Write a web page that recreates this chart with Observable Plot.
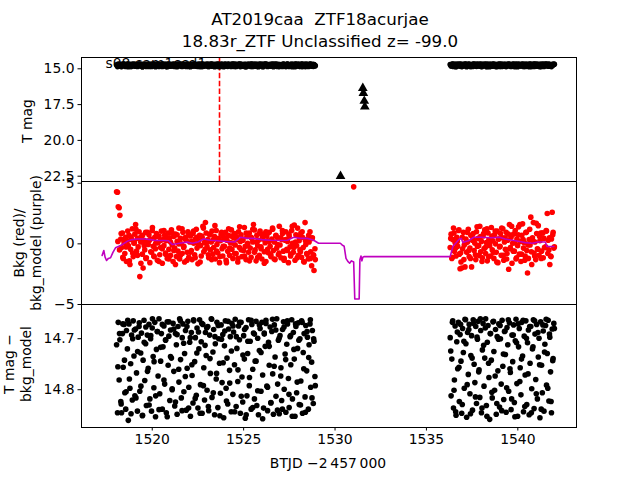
<!DOCTYPE html>
<html>
<head>
<meta charset="utf-8">
<script src="https://cdn.jsdelivr.net/npm/d3@7"></script>
<script src="https://cdn.jsdelivr.net/npm/@observablehq/plot@0.6"></script>
<style>
  html, body { margin: 0; padding: 0; background: white; }
  #chart { position: relative; width: 640px; height: 480px; overflow: hidden; font-family: "DejaVu Sans", sans-serif; color: black; }
  .abs { position: absolute; }
  .title { left: 0; width: 640px; top: 9px; text-align: center; font-size: 16.7px; line-height: 21.5px; white-space: pre; }
  .ylab { font-size: 13.9px; line-height: 17px; text-align: center; white-space: pre; transform: translate(-50%, -50%) rotate(-90deg); }
  .xlab { font-size: 13.9px; transform: translate(-50%, -50%); white-space: pre; }
</style>
</head>
<body>
<div id="chart"></div>
<script>
// ---------- text ----------
const titleLines = ["AT2019caa  ZTF18acurjae", "18.83r_ZTF Unclassified z= -99.0"];
const sectorLabel = ["s08 cam1ccd1"];
const yLabels = ["T mag", "Bkg (red)/\nbkg_model (purple)", "T mag \u2212\nbkg_model"];
const xLabel = "BTJD \u22122\u2009457\u2009000";

// ---------- ticks ----------
const xTicks = [1520, 1525, 1530, 1535, 1540];
const magTicks = [15.0, 17.5, 20.0, 22.5];
const bkgTicks = [-5, 0, 5];
const diffTicks = [14.7, 14.8];

// ---------- TESS cadences (sector 8), orbit 1 ----------
const timesA = [
1518.05,1518.10,1518.14,1518.19,1518.23,1518.28,1518.32,1518.37,1518.41,1518.46,
1518.50,1518.55,1518.59,1518.64,1518.69,1518.73,1518.78,1518.82,1518.87,1518.91,
1518.96,1519.00,1519.05,1519.09,1519.14,1519.19,1519.23,1519.28,1519.32,1519.37,
1519.41,1519.46,1519.50,1519.55,1519.59,1519.64,1519.68,1519.73,1519.78,1519.82,
1519.87,1519.91,1519.96,1520.00,1520.05,1520.09,1520.14,1520.18,1520.23,1520.28,
1520.32,1520.37,1520.41,1520.46,1520.50,1520.55,1520.59,1520.64,1520.68,1520.73,
1520.77,1520.82,1520.87,1520.91,1520.96,1521.00,1521.05,1521.09,1521.14,1521.18,
1521.23,1521.27,1521.32,1521.36,1521.41,1521.46,1521.50,1521.55,1521.59,1521.64,
1521.68,1521.73,1521.77,1521.82,1521.86,1521.91,1521.95,1522.00,1522.05,1522.09,
1522.14,1522.18,1522.23,1522.27,1522.32,1522.36,1522.41,1522.45,1522.50,1522.55,
1522.59,1522.64,1522.68,1522.73,1522.77,1522.82,1522.86,1522.91,1522.95,1523.00,
1523.04,1523.09,1523.14,1523.18,1523.23,1523.27,1523.32,1523.36,1523.41,1523.45,
1523.50,1523.54,1523.59,1523.64,1523.68,1523.73,1523.77,1523.82,1523.86,1523.91,
1523.95,1524.00,1524.04,1524.09,1524.13,1524.18,1524.23,1524.27,1524.32,1524.36,
1524.41,1524.45,1524.50,1524.54,1524.59,1524.63,1524.68,1524.72,1524.77,1524.82,
1524.86,1524.91,1524.95,1525.00,1525.04,1525.09,1525.13,1525.18,1525.22,1525.27,
1525.31,1525.36,1525.41,1525.45,1525.50,1525.54,1525.59,1525.63,1525.68,1525.72,
1525.77,1525.81,1525.86,1525.90,1525.95,1526.00,1526.04,1526.09,1526.13,1526.18,
1526.22,1526.27,1526.31,1526.36,1526.40,1526.45,1526.49,1526.54,1526.59,1526.63,
1526.68,1526.72,1526.77,1526.81,1526.86,1526.90,1526.95,1526.99,1527.04,1527.08,
1527.13,1527.18,1527.22,1527.27,1527.31,1527.36,1527.40,1527.45,1527.49,1527.54,
1527.58,1527.63,1527.67,1527.72,1527.77,1527.81,1527.86,1527.90,1527.95,1527.99,
1528.04,1528.08,1528.13,1528.17,1528.22,1528.26,1528.31,1528.36,1528.40,1528.45,
1528.49,1528.54,1528.58,1528.63,1528.67,1528.72,1528.76,1528.81,1528.85,1528.90];
const timesC = [
1518.12,1518.21,1518.30,1518.39,1518.48,1518.57,1518.66,1518.75,1518.84,1518.93,
1519.02,1519.11,1519.20,1519.29,1519.38,1519.47,1519.56,1519.65,1519.74,1519.83,
1519.92,1520.01,1520.10,1520.19,1520.28,1520.37,1520.46,1520.55,1520.64,1520.73,
1520.82,1520.91,1521.00,1521.09,1521.18,1521.27,1521.36,1521.45,1521.54,1521.63,
1521.72,1521.81,1521.90,1521.99,1522.08,1522.17,1522.26,1522.35,1522.44,1522.53,
1522.62,1522.71,1522.80,1522.89,1522.98,1523.07,1523.16,1523.25,1523.34,1523.43,
1523.52,1523.61,1523.70,1523.79,1523.88,1523.97,1524.06,1524.15,1524.24,1524.33,
1524.42,1524.51,1524.60,1524.69,1524.78,1524.87,1524.96,1525.05,1525.14,1525.23,
1525.32,1525.41,1525.50,1525.59,1525.68,1525.77,1525.86,1525.95,1526.04,1526.13,
1526.22,1526.31,1526.40,1526.49,1526.58,1526.67,1526.76,1526.85,1526.94,1527.03,
1527.12,1527.21,1527.30,1527.39,1527.48,1527.57,1527.66,1527.75,1527.84,1527.93,
1528.02,1528.11,1528.20,1528.29,1528.38,1528.47,1528.56,1528.65,1528.74,1528.83,
1528.92];
// orbit 2
const timesB = [
1536.30,1536.35,1536.39,1536.44,1536.48,1536.53,1536.57,1536.62,1536.66,1536.71,
1536.75,1536.80,1536.84,1536.89,1536.93,1536.98,1537.02,1537.07,1537.11,1537.16,
1537.20,1537.25,1537.29,1537.34,1537.38,1537.43,1537.47,1537.52,1537.56,1537.61,
1537.65,1537.70,1537.74,1537.79,1537.83,1537.88,1537.92,1537.97,1538.01,1538.06,
1538.10,1538.15,1538.19,1538.24,1538.28,1538.33,1538.37,1538.42,1538.46,1538.51,
1538.55,1538.60,1538.64,1538.69,1538.73,1538.78,1538.82,1538.87,1538.91,1538.96,
1539.00,1539.05,1539.09,1539.14,1539.18,1539.23,1539.27,1539.32,1539.36,1539.41,
1539.45,1539.50,1539.54,1539.59,1539.63,1539.68,1539.72,1539.77,1539.81,1539.86,
1539.90,1539.95,1539.99,1540.04,1540.08,1540.13,1540.17,1540.22,1540.26,1540.31,
1540.35,1540.40,1540.44,1540.49,1540.53,1540.58,1540.62,1540.67,1540.71,1540.76,
1540.80,1540.85,1540.89,1540.94,1540.98,1541.03,1541.07,1541.12,1541.16,1541.21,
1541.25,1541.30,1541.34,1541.39,1541.43,1541.48,1541.52,1541.57,1541.61,1541.66,
1541.70,1541.75,1541.79,1541.84,1541.88,1541.93,1541.97];
const timesD = [
1536.33,1536.42,1536.51,1536.60,1536.69,1536.78,1536.87,1536.96,1537.05,1537.14,
1537.23,1537.32,1537.41,1537.50,1537.59,1537.68,1537.77,1537.86,1537.95,1538.04,
1538.13,1538.22,1538.31,1538.40,1538.49,1538.58,1538.67,1538.76,1538.85,1538.94,
1539.03,1539.12,1539.21,1539.30,1539.39,1539.48,1539.57,1539.66,1539.75,1539.84,
1539.93,1540.02,1540.11,1540.20,1540.29,1540.38,1540.47,1540.56,1540.65,1540.74,
1540.83,1540.92,1541.01,1541.10,1541.19,1541.28,1541.37,1541.46,1541.55,1541.64,
1541.73,1541.82,1541.91,1542.00];

// T mag (also T mag - bkg_model, bottom panel)
const tmagA = [
14.712,14.845,14.668,14.781,14.702,14.823,14.845,14.690,14.756,14.672,
14.806,14.838,14.684,14.720,14.860,14.671,14.797,14.749,14.693,14.820,
14.665,14.734,14.812,14.681,14.767,14.842,14.697,14.676,14.803,14.728,
14.689,14.851,14.742,14.664,14.782,14.710,14.831,14.693,14.758,14.672,
14.818,14.700,14.842,14.679,14.735,14.796,14.668,14.853,14.721,14.686,
14.773,14.661,14.808,14.744,14.690,14.838,14.716,14.675,14.789,14.702,
14.845,14.667,14.752,14.695,14.821,14.683,14.738,14.800,14.670,14.764,
14.832,14.690,14.712,14.848,14.676,14.785,14.661,14.741,14.816,14.698,
14.671,14.804,14.729,14.684,14.840,14.758,14.666,14.795,14.707,14.852,
14.688,14.772,14.826,14.665,14.745,14.698,14.811,14.679,14.836,14.720,
14.663,14.790,14.706,14.846,14.672,14.757,14.820,14.688,14.733,14.801,
14.676,14.841,14.693,14.768,14.661,14.815,14.726,14.682,14.849,14.710,
14.779,14.668,14.835,14.700,14.748,14.807,14.673,14.786,14.692,14.855,
14.714,14.665,14.797,14.738,14.828,14.681,14.762,14.696,14.843,14.670,
14.809,14.687,14.751,14.662,14.833,14.719,14.784,14.675,14.702,14.846,
14.668,14.775,14.824,14.694,14.740,14.856,14.678,14.812,14.729,14.663,
14.792,14.705,14.838,14.672,14.760,14.689,14.818,14.744,14.666,14.831,
14.699,14.849,14.723,14.680,14.803,14.668,14.771,14.836,14.691,14.715,
14.664,14.793,14.841,14.707,14.752,14.677,14.825,14.686,14.769,14.848,
14.673,14.736,14.813,14.661,14.789,14.703,14.847,14.694,14.757,14.821,
14.682,14.667,14.799,14.730,14.844,14.711,14.671,14.778,14.835,14.696,
14.751,14.663,14.818,14.688,14.740,14.852,14.676,14.806,14.719,14.669,
14.829,14.700,14.783,14.665,14.846,14.727,14.690,14.814,14.674,14.763,
14.697,14.838,14.712,14.671,14.795,14.746,14.684,14.827,14.705,14.774];
const tmagC = [
14.755,14.690,14.828,14.671,14.742,14.804,14.664,14.779,14.847,14.700,
14.683,14.816,14.725,14.669,14.793,14.850,14.707,14.677,14.764,14.830,
14.694,14.661,14.745,14.812,14.686,14.839,14.717,14.672,14.781,14.703,
14.853,14.667,14.735,14.798,14.681,14.824,14.692,14.760,14.665,14.841,
14.709,14.774,14.676,14.836,14.698,14.751,14.663,14.817,14.728,14.687,
14.846,14.670,14.792,14.713,14.679,14.833,14.739,14.662,14.806,14.696,
14.768,14.674,14.851,14.701,14.747,14.685,14.822,14.666,14.787,14.724,
14.675,14.843,14.696,14.761,14.668,14.813,14.732,14.682,14.849,14.705,
14.776,14.664,14.835,14.691,14.744,14.802,14.673,14.727,14.857,14.689,
14.670,14.795,14.715,14.826,14.662,14.754,14.683,14.840,14.699,14.773,
14.838,14.677,14.741,14.665,14.809,14.694,14.852,14.721,14.671,14.785,
14.703,14.830,14.668,14.759,14.844,14.686,14.737,14.663,14.816,14.700,
14.792];
const tmagB = [
14.698,14.812,14.740,14.665,14.836,14.781,14.675,14.850,14.706,14.759,
14.668,14.823,14.692,14.744,14.846,14.680,14.727,14.797,14.662,14.710,
14.854,14.688,14.770,14.672,14.808,14.733,14.694,14.840,14.663,14.750,
14.786,14.676,14.827,14.701,14.666,14.761,14.815,14.684,14.845,14.722,
14.670,14.793,14.738,14.661,14.831,14.707,14.674,14.776,14.858,14.690,
14.742,14.816,14.667,14.725,14.801,14.682,14.848,14.696,14.763,14.671,
14.834,14.700,14.789,14.664,14.754,14.819,14.686,14.731,14.844,14.678,
14.712,14.803,14.669,14.766,14.839,14.693,14.745,14.673,14.825,14.704,
14.662,14.788,14.852,14.716,14.680,14.757,14.810,14.668,14.734,14.843,
14.695,14.771,14.665,14.829,14.708,14.683,14.849,14.748,14.676,14.798,
14.720,14.663,14.837,14.691,14.780,14.672,14.818,14.736,14.699,14.855,
14.667,14.752,14.806,14.685,14.842,14.711,14.674,14.791,14.729,14.664,
14.822,14.697,14.765,14.845,14.681,14.739,14.670];
const tmagD = [
14.724,14.668,14.801,14.843,14.687,14.756,14.672,14.829,14.705,14.663,
14.790,14.682,14.847,14.738,14.670,14.814,14.697,14.765,14.661,14.836,
14.713,14.679,14.852,14.748,14.690,14.805,14.666,14.773,14.827,14.701,
14.674,14.841,14.730,14.685,14.796,14.663,14.759,14.818,14.693,14.853,
14.708,14.671,14.784,14.740,14.664,14.833,14.699,14.769,14.676,14.845,
14.716,14.665,14.808,14.688,14.751,14.838,14.673,14.726,14.662,14.797,
14.691,14.823,14.743,14.680];

// Background (red points)
const bkgA = [
4.30,4.25,3.05,2.98,2.35,0.40,-0.30,0.90,-1.20,0.10,
-0.80,0.55,-1.45,0.25,-0.15,0.70,-1.70,-0.45,0.35,1.25,
-1.05,0.05,0.80,1.60,-0.60,0.45,-0.25,1.00,-2.70,0.15,
0.60,-0.85,-2.00,0.30,-0.50,0.95,-1.15,0.20,-0.05,0.75,
-1.55,0.40,-0.70,1.10,-0.20,-1.00,0.55,-0.40,0.85,-1.35,
0.10,0.65,-0.90,-0.30,1.05,-1.60,0.35,-0.15,0.70,-0.75,
0.25,-1.20,0.90,-0.45,0.50,-0.95,1.15,-0.10,-1.45,0.60,
-0.35,0.80,-1.05,0.20,-0.60,1.30,-1.25,0.45,0.00,-0.80,
0.95,-0.20,-1.50,0.55,0.30,-0.70,1.00,-1.10,0.15,0.65,
-0.55,-1.30,0.85,0.05,-0.90,0.40,1.20,-0.35,-1.65,0.25,
0.70,-0.15,-1.00,0.50,1.45,-0.65,0.10,1.75,0.90,-0.25,
0.35,-1.15,0.75,-0.50,0.15,1.05,-0.85,-0.30,0.60,-1.25,
1.10,-0.05,-0.75,0.45,-1.55,0.25,0.80,-0.40,-1.00,0.55,
-0.20,0.95,-1.35,0.30,-0.60,1.25,-0.95,0.10,0.65,-0.45,
-1.20,0.50,0.85,-0.10,-0.80,0.35,-1.50,1.00,-0.30,0.20,
0.75,-1.05,0.40,-0.55,1.35,-0.20,-1.30,0.60,0.05,-0.70,
0.90,-0.35,-1.10,0.45,0.15,1.60,1.15,-0.50,-1.40,0.70,
-0.15,0.30,-0.95,1.05,-0.40,-1.25,0.55,0.80,-0.65,0.10,
-1.45,0.65,0.25,-0.75,0.95,-0.20,-1.05,0.40,1.20,-0.55,
0.15,-1.30,0.70,-0.35,0.50,-0.90,1.45,-0.10,-1.15,0.35,
0.85,-0.60,-1.20,0.30,1.00,-0.45,0.20,-1.55,0.60,-0.25,
-0.85,1.10,0.05,-0.70,1.55,-1.35,0.75,-0.15,1.30,-0.95,
0.25,-0.50,0.90,-1.10,0.55,-0.30,-1.50,1.75,-0.05,-0.80,
0.40,-1.25,0.15,1.00,-0.65,-1.80,0.50,-0.90,-2.20,-0.40];
const bkgC = [
0.20,-0.50,0.85,-1.10,0.35,-0.25,1.05,-1.40,0.55,-0.75,
0.10,1.20,-0.95,0.45,-1.60,0.70,-0.15,-1.20,0.95,0.25,
-0.65,1.35,-1.05,0.05,0.60,-1.45,0.30,-0.40,1.10,-0.85,
0.50,-1.25,0.15,0.90,-0.55,-1.70,0.75,0.00,-0.95,1.25,
-0.30,0.40,-1.35,0.85,-0.70,0.20,1.05,-1.15,0.55,-0.10,
-1.50,0.65,1.30,-0.45,0.10,-0.90,0.80,-1.30,0.35,1.50,
-0.60,0.25,-1.05,0.95,-0.20,0.45,-1.55,0.70,-0.35,1.15,
0.05,-0.80,0.60,-1.20,1.40,-0.50,0.30,-1.00,0.90,-0.15,
-1.40,0.55,1.20,-0.70,0.15,-1.10,0.85,-0.25,0.40,-1.60,
1.00,-0.45,0.20,-0.90,1.30,-1.25,0.65,-0.05,-0.75,0.50,
1.10,-1.35,0.35,-0.55,0.80,-1.00,1.45,-0.30,0.15,-1.15,
0.60,-0.65,1.00,-1.45,0.25,-0.85,0.70,-1.20,0.45,-0.95,
-1.30];
const bkgB = [
-0.30,0.80,-1.20,0.35,1.30,-0.60,0.10,-1.00,0.55,-0.20,
1.10,-0.85,-2.05,-1.50,-2.00,-0.40,0.95,-0.10,-1.90,0.40,
-0.70,0.15,1.20,-1.05,-0.35,0.70,-1.90,0.30,0.85,-0.55,
0.05,-1.30,1.00,-0.20,0.45,-0.95,1.45,-0.65,0.20,-1.15,
0.65,-0.40,1.15,-0.80,0.10,-1.40,0.90,0.35,-0.15,-1.00,
1.35,-0.50,0.25,-1.20,0.75,0.00,-0.70,1.05,-1.55,0.40,
-0.25,0.85,-0.95,0.50,1.25,-1.35,0.15,-0.45,0.95,-0.80,
0.30,-2.10,1.60,-0.30,0.55,-1.60,0.05,0.80,-0.60,1.10,
-1.25,0.40,-0.15,1.40,-0.85,0.20,-1.45,0.70,1.65,-0.35,
0.10,-1.00,0.95,-0.55,-2.40,-1.20,0.35,-0.10,2.20,-1.70,
0.50,1.75,-0.75,0.15,-1.30,0.85,-0.40,1.50,-0.95,0.25,
0.90,-0.60,0.90,-1.15,0.45,-0.30,-0.25,1.05,2.50,0.30,
-0.50,-1.70,-1.00,0.40,2.60,0.95,-0.35];
const bkgD = [
0.45,-1.10,0.90,-0.35,0.20,1.15,-0.75,0.55,-1.30,0.05,
0.95,-0.55,-1.20,0.70,0.30,-0.90,1.40,-0.15,0.60,-1.45,
0.85,-0.30,1.25,-1.05,0.15,0.65,-0.70,1.05,-1.50,0.40,
-0.20,1.30,-0.95,0.50,-1.25,0.80,-0.40,1.45,-0.60,0.10,
-1.15,0.75,1.60,-0.85,0.35,-1.35,0.95,-0.10,1.20,-0.65,
0.25,-1.00,1.70,-0.45,0.60,-1.20,0.90,-0.30,1.10,-0.80,
0.50,-1.05,0.75,-0.25];
const bkgExtraT = [1531.02];
const bkgExtraV = [4.70];

// bkg_model (purple line)
const modelT = [1517.26,1517.35,1517.42,1517.50,1517.60,1517.72,1517.85,1517.99,1518.27,1518.63,
  1518.90,1519.20,1519.60,1519.90,1520.20,1520.60,1520.90,1521.10,1521.50,1521.90,
  1522.20,1522.50,1522.80,1523.20,1523.60,1524.00,1524.50,1524.83,1525.20,1525.55,
  1526.00,1526.50,1527.00,1527.40,1527.74,1528.10,1528.48,1528.83,1529.10,1530.29,
  1530.40,1530.50,1530.60,1530.70,1530.80,1530.90,1531.02,1531.08,1531.32,1531.36,
  1531.42,1531.47,1531.52,1531.60,1536.30,1536.45,1536.60,1536.80,1536.90,1537.00,
  1537.15,1537.30,1537.45,1537.60,1538.00,1538.50,1539.00,1539.30,1539.70,1540.10,
  1540.40,1540.80,1541.10,1541.50,1541.60,1541.97];
const modelV = [-0.95,-0.55,-1.10,-1.37,-1.20,-1.15,-0.70,-0.33,-0.14,0.21,
  0.35,0.40,0.40,0.35,0.27,0.27,0.25,-0.06,0.05,0.14,
  0.05,0.15,0.40,0.30,0.25,0.20,0.15,0.54,0.45,0.45,
  0.35,0.30,0.28,0.30,0.54,0.45,0.45,0.30,0.05,0.05,
  -0.10,-0.20,-1.20,-1.45,-1.60,-1.40,-1.50,-4.55,-4.55,-1.30,
  -1.00,-1.40,-1.10,-1.05,-1.05,-0.20,0.05,0.40,0.45,0.10,
  0.20,0.25,0.40,0.55,0.55,0.50,0.55,0.40,0.30,0.20,
  0.10,0.05,0.15,0.15,-0.22,-0.22];

// ZTF r-band points (triangles)
const ztfT = [1530.30, 1531.52, 1531.55, 1531.60, 1531.63];
const ztfMag = [22.50, 16.35, 16.70, 17.25, 17.65];

// vertical marker (dashed red)
const markerT = [1523.68];

// ---------- build tables ----------
const allT = timesA.concat(timesC, timesB, timesD);
const allMag = tmagA.concat(tmagC, tmagB, tmagD);
const allBkg = bkgA.concat(bkgC, bkgB, bkgD);
const tess = allT.map((t, i) => ({t, mag: allMag[i], bkg: allBkg[i]}));
const extra = bkgExtraT.map((t, i) => ({t, bkg: bkgExtraV[i]}));
const model = modelT.map((t, i) => ({t, v: modelV[i]}));
const ztf = ztfT.map((t, i) => ({t, mag: ztfMag[i]}));

const xDomain = [1516.13, 1543.21];
const R = 2.8;
const common = {
  width: 640, marginLeft: 81, marginRight: 64,
  style: {fontFamily: "DejaVu Sans", fontSize: "13.9px", color: "black", background: "transparent", overflow: "visible"}
};
const chart = document.getElementById("chart");
function place(svg, top) {
  svg.style.position = "absolute";
  svg.style.left = "0px";
  svg.style.top = top + "px";
  chart.appendChild(svg);
}

// Top panel
place(Plot.plot({
  ...common, height: 181, marginTop: 57, marginBottom: 0,
  x: {domain: xDomain, axis: null},
  y: {domain: [14.21, 22.87], reverse: true, ticks: magTicks, tickFormat: d3.format(".1f"), tickSize: 3.5, tickPadding: 3.5, label: null},
  marks: [
    Plot.text(sectorLabel, {frameAnchor: "top-left", dx: 24, dy: 1, textAnchor: "start", lineAnchor: "top", fill: "black", fontSize: 13.9}),
    Plot.ruleX(markerT, {x: d => d, stroke: "red", strokeWidth: 1.6, strokeDasharray: "5.5,2.4"}),
    Plot.dot(tess, {x: "t", y: "mag", fill: "black", r: R}),
    Plot.dot(ztf, {x: "t", y: "mag", symbol: "triangle", fill: "black", r: 3.6}),
    Plot.frame({stroke: "black"})
  ]
}), 0);

// Middle panel
place(Plot.plot({
  ...common, height: 123, marginTop: 0, marginBottom: 0,
  x: {domain: xDomain, axis: null},
  y: {domain: [-5.0, 5.14], ticks: bkgTicks, tickFormat: d3.format("d"), tickSize: 3.5, tickPadding: 3.5, label: null},
  marks: [
    Plot.dot(tess, {x: "t", y: "bkg", fill: "red", r: R}),
    Plot.dot(extra, {x: "t", y: "bkg", fill: "red", r: R}),
    Plot.line(model, {x: "t", y: "v", stroke: "#bf00bf", strokeWidth: 1.6}),
    Plot.frame({stroke: "black"})
  ]
}), 181);

// Bottom panel
place(Plot.plot({
  ...common, height: 176, marginTop: 0, marginBottom: 53,
  x: {domain: xDomain, ticks: xTicks, tickFormat: d3.format("d"), tickSize: 3.5, tickPadding: 3.5, label: null},
  y: {domain: [14.633, 14.874], reverse: true, ticks: diffTicks, tickFormat: d3.format(".1f"), tickSize: 3.5, tickPadding: 3.5, label: null},
  marks: [
    Plot.dot(tess, {x: "t", y: "mag", fill: "black", r: R}),
    Plot.frame({stroke: "black"})
  ]
}), 304);

// Titles and labels
const title = document.createElement("div");
title.className = "abs title";
title.textContent = titleLines.join("\n");
chart.appendChild(title);

const ylabPos = [[27, 121], [28, 243], [18, 364]];
yLabels.forEach((txt, i) => {
  const d = document.createElement("div");
  d.className = "abs ylab";
  d.style.left = ylabPos[i][0] + "px";
  d.style.top = ylabPos[i][1] + "px";
  d.textContent = txt;
  chart.appendChild(d);
});
const xl = document.createElement("div");
xl.className = "abs xlab";
xl.style.left = "328px";
xl.style.top = "463px";
xl.textContent = xLabel;
chart.appendChild(xl);
</script>
</body>
</html>
